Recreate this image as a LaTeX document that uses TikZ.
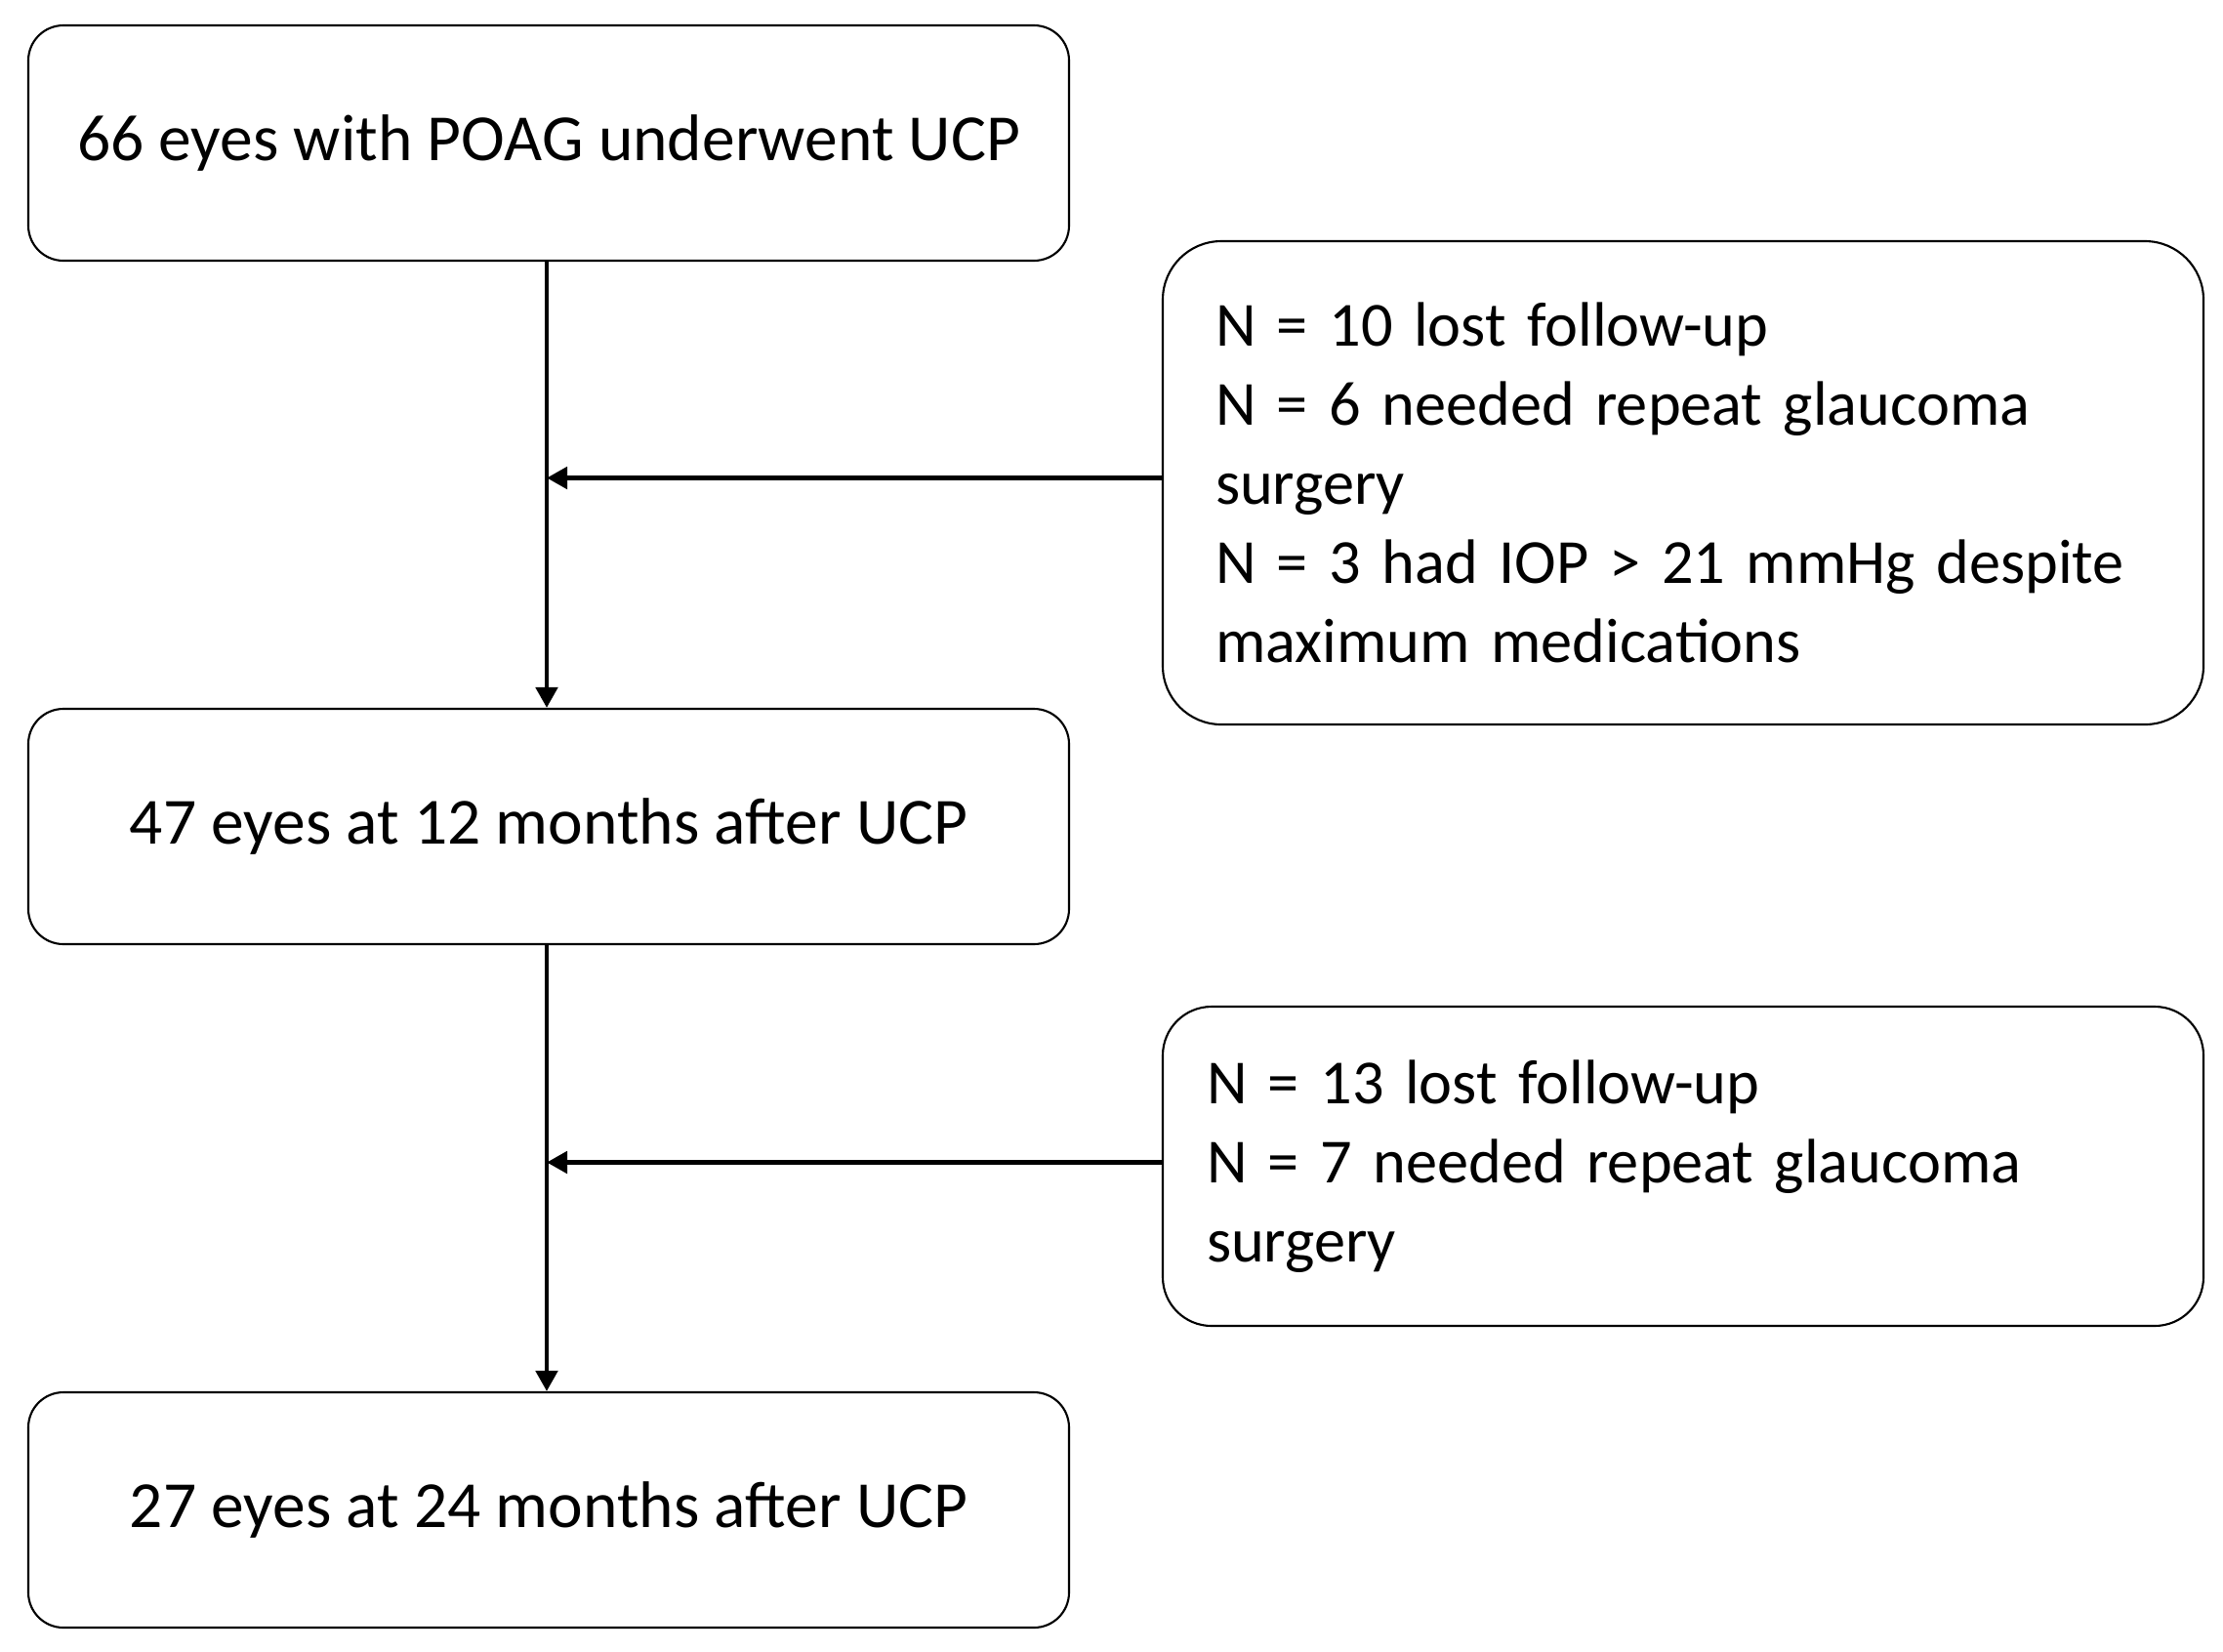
\documentclass[tikz,border=0pt]{standalone}
\usepackage{fontspec}
\setmainfont{Carlito}
\usetikzlibrary{arrows.meta}
\newcommand{\lowtext}[1]{\raisebox{-0.03cm}{#1}}
\begin{document}
\begin{tikzpicture}[
  mainbox/.style={draw=black, line width=0.6pt, rounded corners=0.36cm,
    minimum width=10.66cm, minimum height=2.41cm, align=center, inner sep=0pt,
    font=\fontsize{19.2}{23.1}\selectfont},
  sidebox/.style={draw=black, line width=0.6pt, rounded corners=0.6cm,
    minimum width=10.66cm, align=left, text width=9.58cm, inner sep=0pt,
    font=\fontsize{18.3}{23.1}\selectfont},
  flow/.style={line width=1.4pt, -{Triangle[length=0.21cm,width=0.22cm]}}
]
\useasboundingbox (0,0) rectangle (22.77,-16.91);
\node[mainbox] (b1) at (5.62,-1.465) {\lowtext{66 eyes with POAG underwent UCP}};
\node[mainbox] (b2) at (5.62,-8.465) {\lowtext{47 eyes at 12 months after UCP}};
\node[mainbox] (b3) at (5.62,-15.465) {\lowtext{27 eyes at 24 months after UCP}};
\node[sidebox, minimum height=4.95cm] (r1) at (17.24,-4.945)
  {N = 10 lost follow-up\\N = 6 needed repeat glaucoma\\surgery\\N = 3 had IOP > 21 mmHg despite\\maximum medications};
\node[sidebox, minimum height=3.27cm, rounded corners=0.5cm, text width=9.76cm] (r2) at (17.24,-11.945)
  {N = 13 lost follow-up\\N = 7 needed repeat glaucoma\\surgery};
\coordinate (s1) at ([yshift=0.05cm]r1.west);
\coordinate (s2) at ([yshift=0.04cm]r2.west);
\coordinate (j1) at ([xshift=-0.02cm]b1.south |- s1);
\coordinate (j2) at ([xshift=-0.02cm]b2.south |- s2);
\draw[flow] ([xshift=-0.02cm]b1.south) -- ([xshift=-0.02cm]b2.north);
\draw[flow] ([xshift=-0.02cm]b2.south) -- ([xshift=-0.02cm]b3.north);
\draw[flow] (s1) -- (j1);
\draw[flow] (s2) -- (j2);
\end{tikzpicture}
\end{document}
